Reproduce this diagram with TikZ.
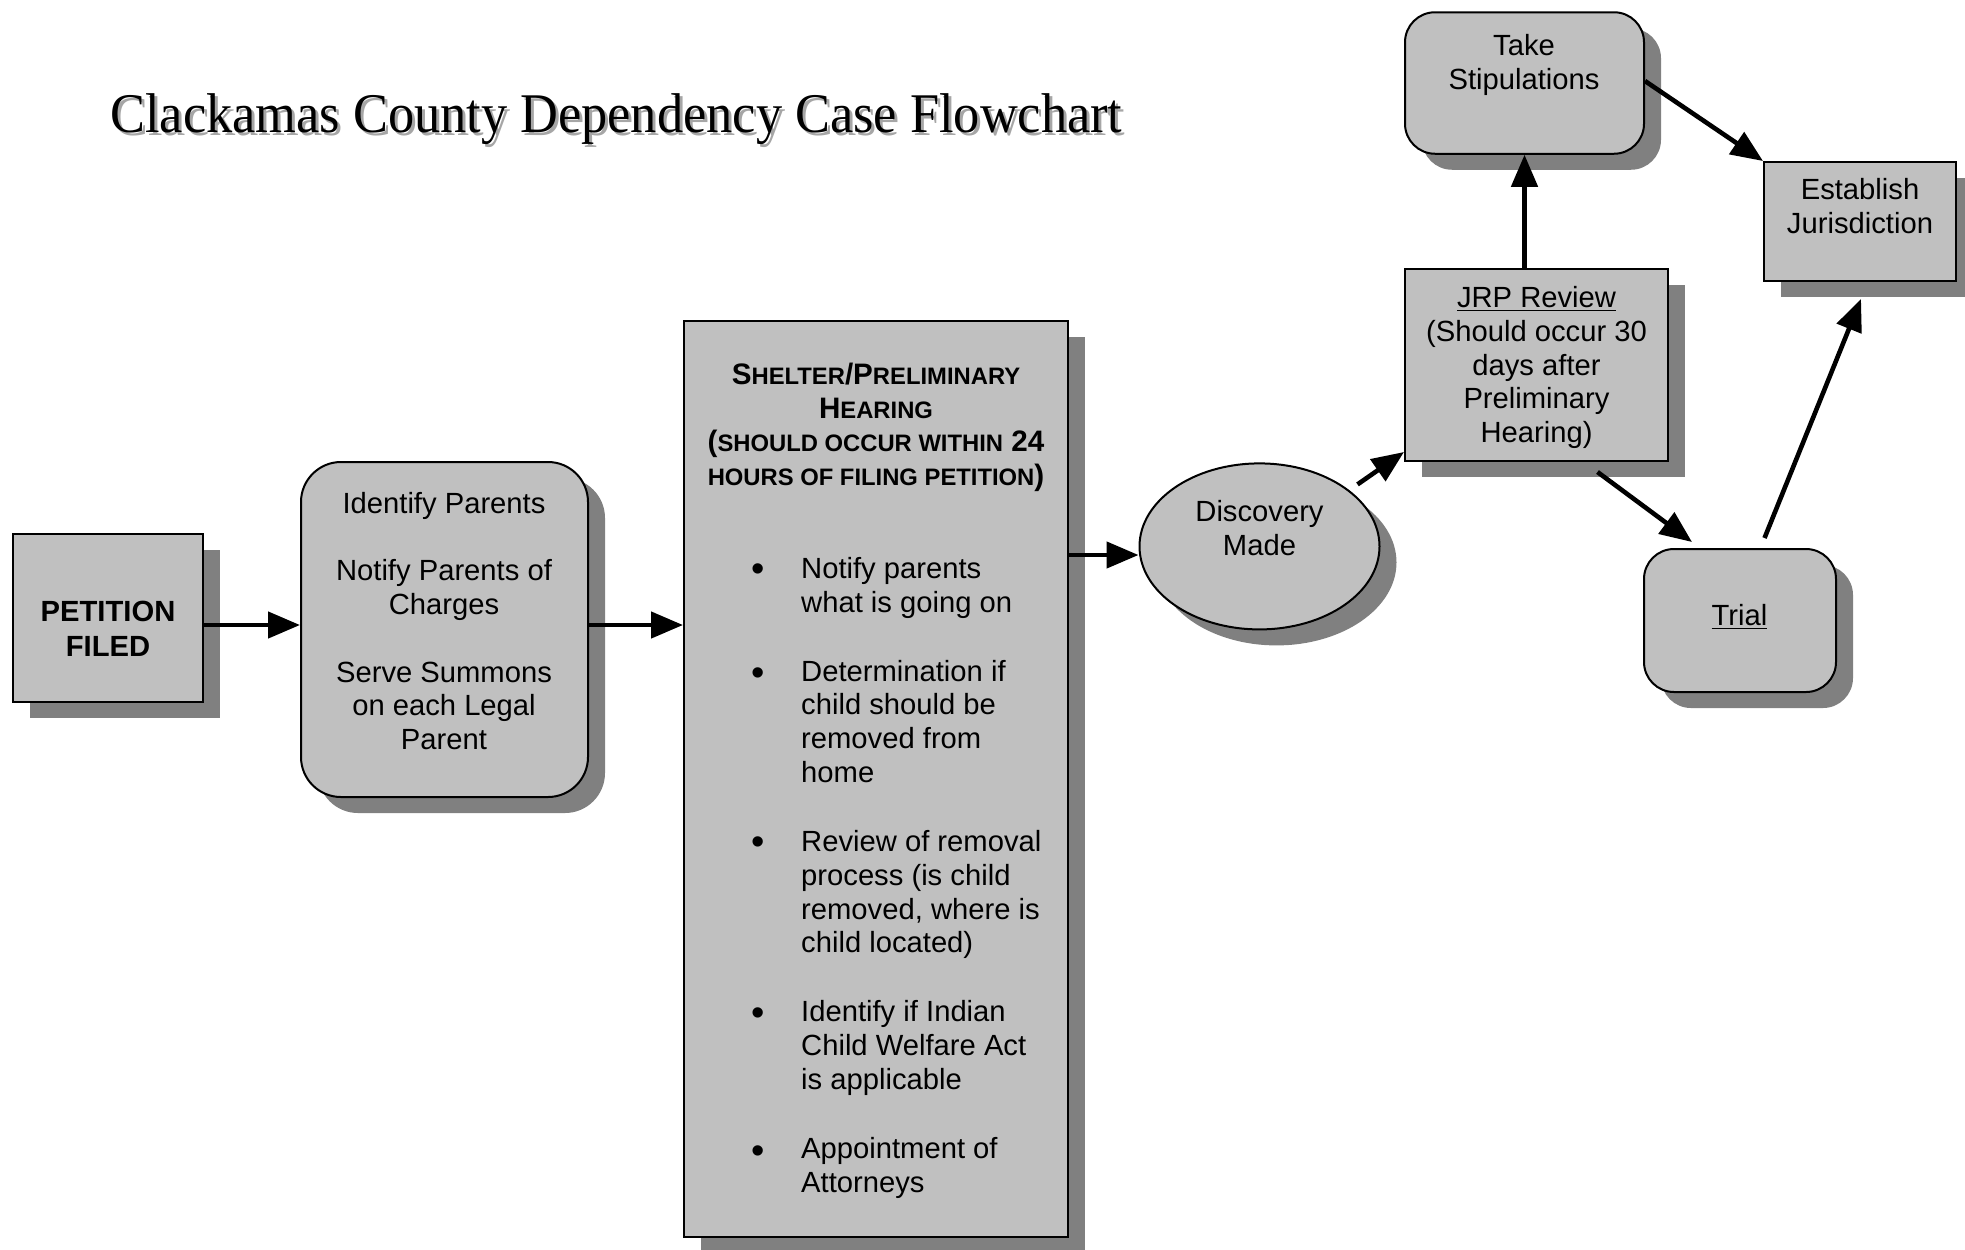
\documentclass[tikz,border=0pt]{standalone}
\usepackage{fontspec}
\setmainfont{Liberation Sans}
\newfontfamily\titlefont{Liberation Serif}
\usetikzlibrary{arrows.meta,shadows,calc,shapes.geometric}
\definecolor{boxgray}{HTML}{C0C0C0}
\definecolor{shadowgray}{HTML}{808080}
\newcommand\smc[1]{{\fontsize{11.9}{16.9}\selectfont #1}}
\tikzset{
  box/.style={draw=black, line width=1pt, fill=boxgray, inner sep=0pt,
    drop shadow={shadow xshift=8.5pt, shadow yshift=-8pt, fill=shadowgray, opacity=1}},
  rbox/.style={box, rounded corners=#1},
  txt/.style={font=\fontsize{14.6}{16.9}\selectfont, align=center, inner sep=0pt, anchor=north},
  bul/.style={font=\fontsize{19}{16.9}\selectfont, inner sep=0pt, anchor=center},
  arr/.style={line width=2.3pt, -{Triangle[length=16pt,width=13pt]}},
}
\begin{document}
\begin{tikzpicture}[x=0.5pt,y=-0.5pt]
\useasboundingbox (0,0) rectangle (1965,1249);
\fill[white] (0,0) rectangle (1965,1249);

% title
\node[font=\titlefont\fontsize{28}{30}\selectfont, text=shadowgray!70, anchor=base west, xscale=0.935, inner sep=0pt]
  (titleshadow) at (113,135) {Clackamas County Dependency Case Flowchart};
\node[font=\titlefont\fontsize{28}{30}\selectfont, anchor=base west, xscale=0.935, inner sep=0pt]
  (title) at (110,132) {Clackamas County Dependency Case Flowchart};

% boxes
\node[box, minimum width=95.25pt, minimum height=84pt] (pet) at (108,618) {};
\node[rbox=20pt, minimum width=143.5pt, minimum height=167.5pt] (ident) at (444.5,629.5) {};
\node[box, minimum width=192pt, minimum height=458pt] (shelter) at (876,779) {};
\node[box, ellipse, minimum width=120pt, minimum height=83pt] (disc) at (1259.5,546.4) {};
\node[box, minimum width=131.5pt, minimum height=96pt] (jrp) at (1536.5,365) {};
\node[rbox=15pt, minimum width=119.5pt, minimum height=70.75pt] (take) at (1524.5,83) {};
\node[box, minimum width=96pt, minimum height=59.5pt] (estab) at (1860,221.5) {};
\node[rbox=15pt, minimum width=96pt, minimum height=71.5pt] (trial) at (1740,620.5) {};

% texts
\node[txt, font=\bfseries\fontsize{14.6}{17.5}\selectfont] (pett) at (108,600.6) {PETITION\\FILED};
\node[txt] (identt) at (444,491.5) {Identify Parents\\[16.9pt]Notify Parents of\\Charges\\[16.9pt]Serve Summons\\on each Legal\\Parent};
\node[txt, font=\bfseries\fontsize{14.8}{16.9}\selectfont] (sheltert) at (876,362.5)
  {S\smc{HELTER}/P\smc{RELIMINARY}\\H\smc{EARING}\\(\smc{SHOULD OCCUR WITHIN} 24\\\smc{HOURS OF FILING PETITION})};
\node[bul] (b1) at (758.2,572.5) {\textbullet};
\node[bul] (b2) at (758.2,676.5) {\textbullet};
\node[bul] (b3) at (758.2,846) {\textbullet};
\node[bul] (b4) at (758.2,1016.5) {\textbullet};
\node[bul] (b5) at (758.2,1154.5) {\textbullet};
\node[txt, align=left, anchor=north west] (items) at (800.8,556.7)
  {Notify parents\\what is going on\\[17.6pt]Determination if\\child should be\\removed from\\home\\[17.6pt]Review of removal\\process (is child\\removed, where is\\child located)\\[17.6pt]Identify if Indian\\Child Welfare Act\\is applicable\\[17.6pt]Appointment of\\Attorneys};
\node[txt] (disct) at (1259.5,500) {Discovery\\Made};
\node[txt] (jrpt) at (1536.5,286) {\underline{JRP Review}\\(Should occur 30\\days after\\Preliminary\\Hearing)};
\node[txt] (taket) at (1524,34) {Take\\Stipulations};
\node[txt] (estabt) at (1860,178) {Establish\\Jurisdiction};
\node[txt] (trialt) at (1739.4,604) {\underline{Trial}};

% connectors
\draw[arr] (pet.east |- 0,625) -- (ident.west |- 0,625);
\draw[arr] (ident.east |- 0,625) -- (shelter.west |- 0,625);
\draw[arr] (shelter.east |- 0,555) -- (disc.west |- 0,555);
\draw[arr] ([shift={(98,-62)}]disc.center) -- ([shift={(0,-10)}]jrp.south west);
\draw[arr] (jrp.north -| take.south) -- (take.south);
\draw[arr] ([shift={(0,-2)}]take.east) -- (estab.north west);
\draw[arr] ([shift={(61,10)}]jrp.south) -- ([shift={(-48,-6)}]trial.north);
\draw[arr] ([shift={(24.5,-10)}]trial.north) -- ([shift={(1,17)}]estab.south);
\end{tikzpicture}
\end{document}
